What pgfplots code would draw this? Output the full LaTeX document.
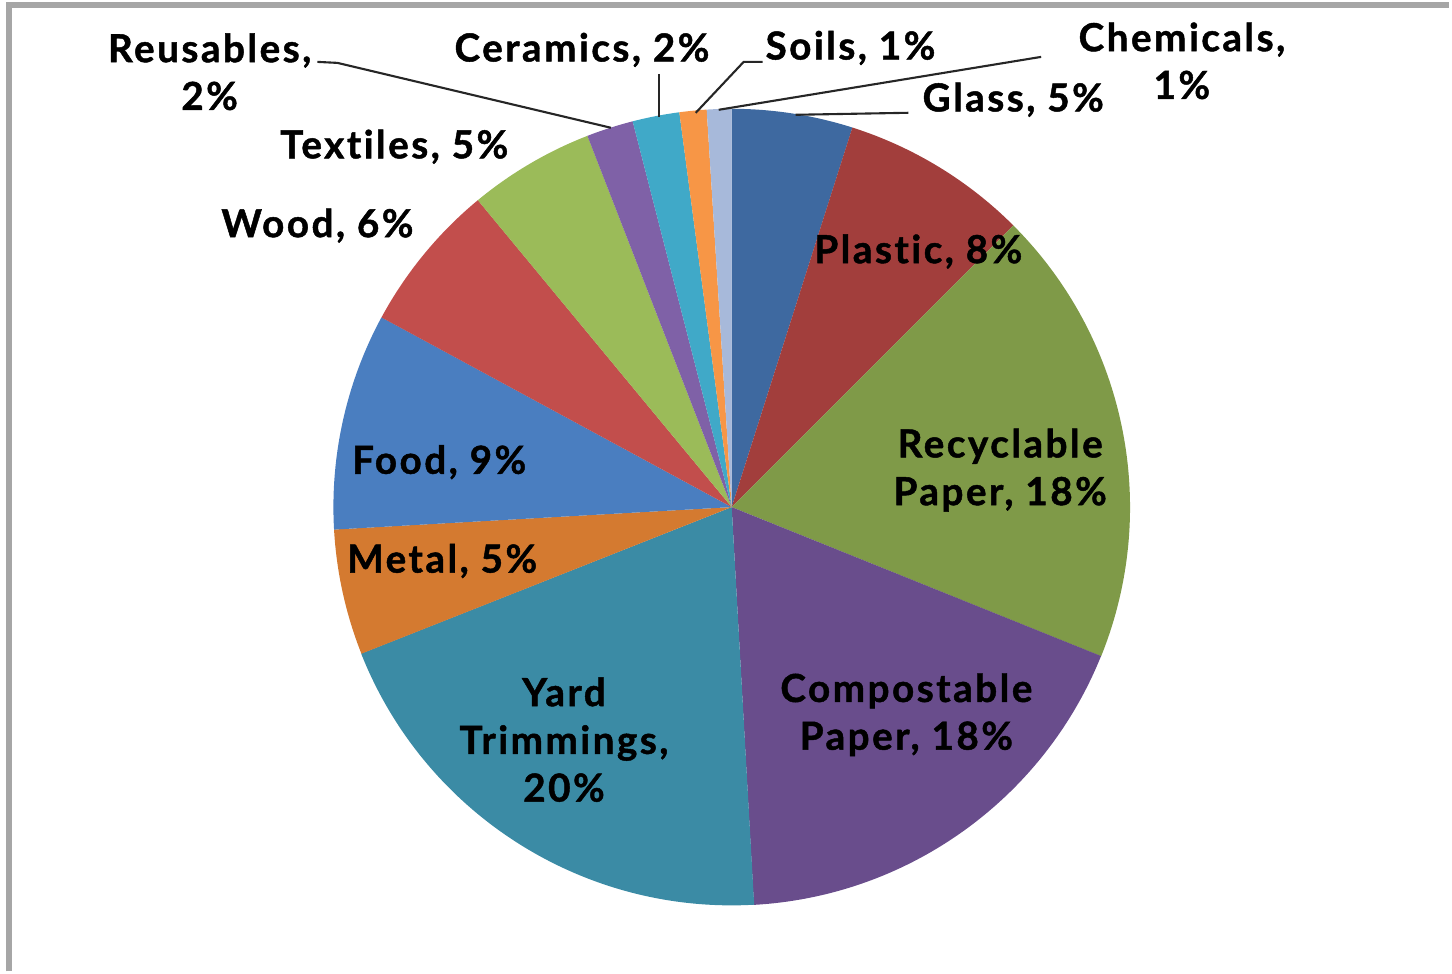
\documentclass[border=0pt]{standalone}
\usepackage{pgfplots}
\pgfplotsset{compat=1.18}
\usepackage{pgfplotstable}
\usepackage{fontspec}
\setmainfont{Lato}[LetterSpace=6.5,Ligatures=NoCommon,BoldFeatures={FakeBold=1.2}]
\definecolor{cGlass}{HTML}{3E69A0}
\definecolor{cPlastic}{HTML}{A23E3C}
\definecolor{cRecyc}{HTML}{7F9A48}
\definecolor{cComp}{HTML}{694D8C}
\definecolor{cYard}{HTML}{3B8BA5}
\definecolor{cMetal}{HTML}{D47A30}
\definecolor{cFood}{HTML}{4A7EC0}
\definecolor{cWood}{HTML}{C24E4C}
\definecolor{cText}{HTML}{9BBB59}
\definecolor{cReus}{HTML}{7F61A7}
\definecolor{cCer}{HTML}{40A9C8}
\definecolor{cSoil}{HTML}{F79646}
\definecolor{cChem}{HTML}{A7B9DA}
\pgfplotstableread[col sep=comma]{
name,value,color
Glass,4.9,cGlass
Plastic,7.6,cPlastic
RecyclablePaper,18.6,cRecyc
CompostablePaper,18.0,cComp
YardTrimmings,19.9,cYard
Metal,5.1,cMetal
Food,8.8,cFood
Wood,6.1,cWood
Textiles,5.1,cText
Reusables,1.9,cReus
Ceramics,1.9,cCer
Soils,1.1,cSoil
Chemicals,1.0,cChem
}\piedata
\begin{document}
\begin{tikzpicture}
\begin{axis}[x=0.01cm,y=0.01cm,xmin=0,xmax=1452,ymin=-973,ymax=0,
  hide axis,clip=false,scale only axis]
\path (axis cs:0,0) rectangle (axis cs:1452,-973);
\draw[gray!70,line width=1.5pt] (axis cs:9,-973) -- (axis cs:9,-5) -- (axis cs:1452,-5);
\def\cum{0}
\pgfplotsforeachungrouped \i in {0,...,12}{%
  \pgfplotstablegetelem{\i}{value}\of\piedata \let\sliceval\pgfplotsretval
  \pgfplotstablegetelem{\i}{color}\of\piedata \let\slicecol\pgfplotsretval
  \pgfmathsetmacro\sa{90-3.6*\cum}%
  \pgfmathsetmacro\ea{90-3.6*(\cum+\sliceval)}%
  \pgfmathsetmacro\px{733+399*cos(\sa)}%
  \pgfmathsetmacro\py{-508+399*sin(\sa)}%
  \edef\temp{\noexpand\fill[\slicecol] (axis cs:733,-508) -- (axis cs:\px,\py) arc[start angle=\sa,end angle=\ea,radius=3.99cm] -- cycle;}%
  \temp
  \pgfmathsetmacro\cum{\cum+\sliceval}%
}
% leader lines
\draw[black!85,line width=0.6pt] (axis cs:318,-62) -- (axis cs:338,-63) -- (axis cs:612,-128);
\draw[black!85,line width=0.6pt] (axis cs:660,-74) -- (axis cs:660,-117);
\draw[black!85,line width=0.6pt] (axis cs:764,-62) -- (axis cs:745,-62) -- (axis cs:697,-113);
\draw[black!85,line width=0.6pt] (axis cs:1043,-57) -- (axis cs:720,-110);
\draw[black!85,line width=0.6pt] (axis cs:910,-113) -- (axis cs:797,-115);
% labels
\tikzset{lbl/.style={font=\fontsize{11pt}{13.6pt}\selectfont\bfseries,align=center,inner sep=0pt}}
\node[lbl] at (axis cs:210,-72) {Reusables,\\2\%};
\node[lbl] at (axis cs:583,-50) {Ceramics, 2\%};
\node[lbl] at (axis cs:852,-48) {Soils, 1\%};
\node[lbl] at (axis cs:1184,-61) {Chemicals,\\1\%};
\node[lbl] at (axis cs:1015,-100) {Glass, 5\%};
\node[lbl] at (axis cs:395,-147) {Textiles, 5\%};
\node[lbl] at (axis cs:318,-226) {Wood, 6\%};
\node[lbl] at (axis cs:920,-252) {Plastic, 8\%};
\node[lbl] at (axis cs:1002,-471) {Recyclable\\Paper, 18\%};
\node[lbl] at (axis cs:908,-716) {Compostable\\Paper, 18\%};
\node[lbl] at (axis cs:565,-741) {Yard\\Trimmings,\\20\%};
\node[lbl] at (axis cs:443,-562) {Metal, 5\%};
\node[lbl] at (axis cs:440,-463) {Food, 9\%};
\end{axis}
\end{tikzpicture}
\end{document}
